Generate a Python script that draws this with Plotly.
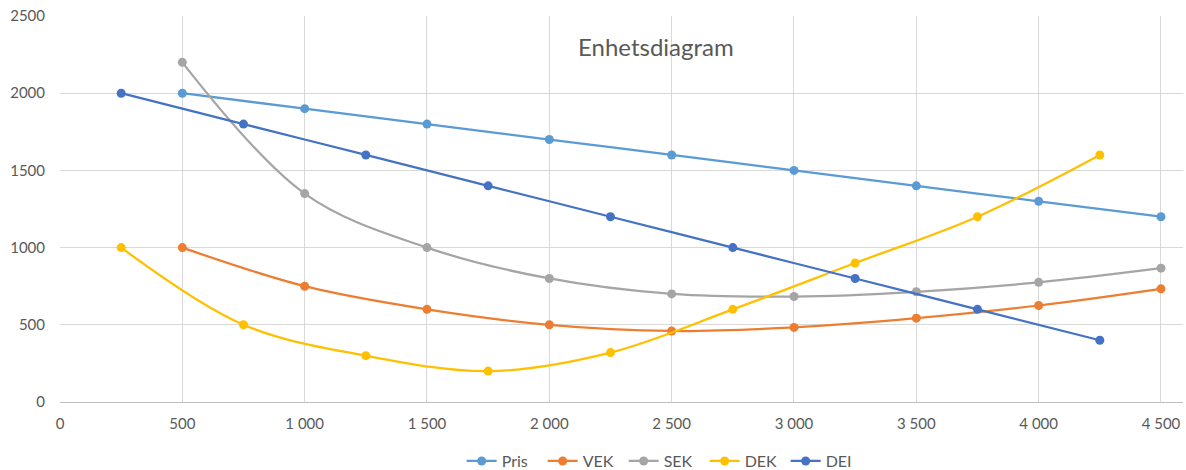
import plotly.graph_objects as go

x_main = [500, 1000, 1500, 2000, 2500, 3000, 3500, 4000, 4500]
x_mid = [250, 750, 1250, 1750, 2250, 2750, 3250, 3750, 4250]

pris = [2000, 1900, 1800, 1700, 1600, 1500, 1400, 1300, 1200]
vek = [1000, 750, 600, 500, 460, 483, 543, 625, 733]
sek = [2200, 1350, 1000, 800, 700, 683, 714, 775, 867]
dek = [1000, 500, 300, 200, 320, 600, 900, 1200, 1600]
dei = [2000, 1800, 1600, 1400, 1200, 1000, 800, 600, 400]

series = [
    ("Pris", x_main, pris, "#5B9BD5"),
    ("VEK", x_main, vek, "#ED7D31"),
    ("SEK", x_main, sek, "#A5A5A5"),
    ("DEK", x_mid, dek, "#FFC000"),
    ("DEI", x_mid, dei, "#4472C4"),
]

fig = go.Figure()
for name, xs, ys, col in series:
    fig.add_trace(go.Scatter(
        x=xs, y=ys, name=name, mode="lines+markers",
        line=dict(color=col, width=2.25, shape="spline", smoothing=1),
        marker=dict(color=col, size=9),
    ))

fig.update_layout(
    width=1186, height=470,
    margin=dict(l=60, r=3, t=16, b=68, autoexpand=False),
    paper_bgcolor="white", plot_bgcolor="white",
    font=dict(family="Lato, Liberation Sans, sans-serif", size=15, color="#595959"),
    separators=", ",
    showlegend=True,
    legend=dict(orientation="h", x=0.538, xanchor="center", y=-0.153, yanchor="middle",
                font=dict(size=16, color="#595959"), entrywidth=36, entrywidthmode="pixels",
                tracegroupgap=0),
    annotations=[dict(text="Enhetsdiagram", xref="paper", yref="paper", x=0.531, y=0.92,
                      xanchor="center", yanchor="middle",
                      showarrow=False, font=dict(size=24, color="#595959"))],
)
fig.update_xaxes(range=[0, 4590], tickvals=[0, 500, 1000, 1500, 2000, 2500, 3000, 3500, 4000, 4500],
                 tickformat=",d", showgrid=True, gridcolor="#D9D9D9", gridwidth=1, automargin=False,
                 showline=True, linecolor="#BFBFBF", zeroline=False, ticks="", ticklabelstandoff=8,
                 ticklabeloverflow="allow")
fig.update_yaxes(range=[0, 2500], dtick=500, tickformat="d", showgrid=True, gridcolor="#D9D9D9",
                 gridwidth=1, showline=False, zeroline=False, ticks="", ticklabelstandoff=14,
                 automargin=False, ticklabeloverflow="allow")

fig.write_html("out.html", config={"displayModeBar": False},
               post_script="document.body.style.margin='0';")
